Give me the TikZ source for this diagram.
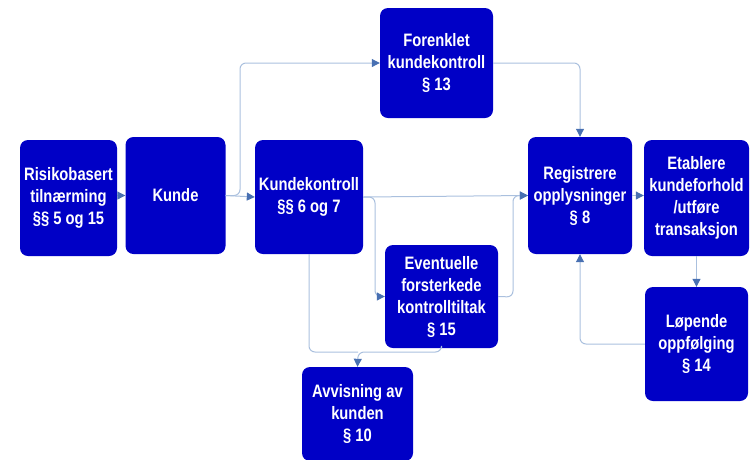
\documentclass[tikz,border=0pt]{standalone}
\usepackage{fontspec}
\setmainfont[FakeStretch=0.82]{Liberation Sans}
\usetikzlibrary{arrows.meta}
\definecolor{boxc}{RGB}{0,0,198}
\definecolor{linec}{RGB}{170,192,222}
\definecolor{arrowc}{RGB}{72,112,178}
\tikzset{
  boxnode/.style={fill=boxc, rounded corners=8pt, text=white, align=center,
    font=\fontsize{18}{22}\selectfont\bfseries, inner sep=0pt},
  conn/.style={draw=linec, line width=1pt, rounded corners=6pt,
    -{Triangle[length=8pt,width=8pt,color=arrowc,fill=arrowc]}},
  connplain/.style={draw=linec, line width=1pt, rounded corners=6pt}
}
\begin{document}
\begin{tikzpicture}[x=1pt,y=-1pt]
\useasboundingbox (0,0) rectangle (750,459);
\node[boxnode, minimum width=97, minimum height=116] (risk) at (68.5,198) {Risikobasert\\tilnærming\\§§ 5 og 15};
\node[boxnode, minimum width=100, minimum height=117] (kunde) at (175.5,195.5) {Kunde};
\node[boxnode, minimum width=108, minimum height=114] (kk) at (309,197) {Kundekontroll\\§§ 6 og 7};
\node[boxnode, minimum width=113, minimum height=110] (forenklet) at (436.5,63) {Forenklet\\kundekontroll\\§ 13};
\node[boxnode, minimum width=113, minimum height=103] (event) at (441.5,296.5) {Eventuelle\\forsterkede\\kontrolltiltak\\§ 15};
\node[boxnode, minimum width=111, minimum height=94] (avvis) at (357.5,414) {Avvisning av\\kunden\\§ 10};
\node[boxnode, minimum width=104, minimum height=117] (reg) at (580,195.5) {Registrere\\opplysninger\\§ 8};
\node[boxnode, minimum width=105, minimum height=116] (etab) at (696.5,198) {Etablere\\kundeforhold\\/utføre\\transaksjon};
\node[boxnode, minimum width=103, minimum height=114] (lop) at (696.5,344) {Løpende\\oppfølging\\§ 14};

\coordinate (j1) at (240,195.5);
\coordinate (j2) at (375,197);
\coordinate (j3) at (513,297);
\coordinate (j4) at (358,352);

\draw[conn] (risk.east |- kunde.west) -- (kunde.west);
\draw[conn] (kunde.east) -- (kk.west);
\draw[conn] (kunde.east) -- (j1) |- (forenklet.west);
\draw[conn] (forenklet.east) -| (reg.north);
\draw[conn] (kk.east) -- (j2) |- (event.west);
\draw[conn] (kk.east) -- (reg.west);
\draw[conn] (event.east) -- (j3) |- (reg.west);
\draw[connplain] (kk.south) |- (j4);
\draw[conn] (event.south) |- (j4) -- (avvis.north);
\draw[conn] (reg.east) -- (reg.east -| etab.west);
\draw[conn] (etab.south) -- (lop.north);
\draw[conn] (lop.west) -| (reg.south);
\end{tikzpicture}
\end{document}
